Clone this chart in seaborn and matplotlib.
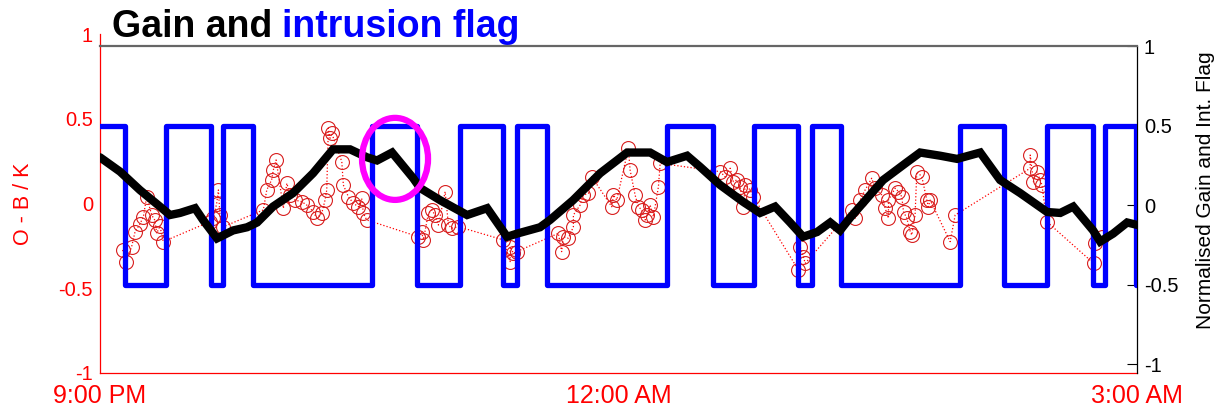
import matplotlib
matplotlib.use("Agg")
import matplotlib.pyplot as plt
import seaborn as sns
import numpy as np
from matplotlib.patches import Ellipse

# ---------------- data (hours after 9:00 PM) ----------------
flag_t = [0.0, 0.145, 0.38, 0.64, 0.71, 0.885, 1.574, 1.834, 2.083, 2.332, 2.413,
          2.586, 3.281, 3.547, 3.784, 4.039, 4.12, 4.287, 4.976, 5.231, 5.479,
          5.745, 5.815, 5.995, 6.0]
flag_v = [0.5, -0.5, 0.5, -0.5, 0.5, -0.5, 0.5, -0.5, 0.5, -0.5, 0.5,
          -0.5, 0.5, -0.5, 0.5, -0.5, 0.5, -0.5, 0.5, -0.5, 0.5,
          -0.5, 0.5, -0.5, -0.5]

gain_t = [0.0, 0.116, 0.231, 0.347, 0.405, 0.463, 0.550, 0.596, 0.677, 0.770,
          0.851, 0.909, 1.001, 1.117, 1.233, 1.348, 1.447, 1.545, 1.603, 1.690,
          1.811, 1.852, 1.968, 2.124, 2.240, 2.355, 2.413, 2.546, 2.604, 2.737,
          2.894, 3.050, 3.183, 3.281, 3.397, 3.472, 3.588, 3.721, 3.819, 3.906,
          3.993, 4.068, 4.149, 4.225, 4.282, 4.340, 4.531, 4.670, 4.745, 4.861,
          4.959, 5.093, 5.208, 5.324, 5.480, 5.556, 5.631, 5.746, 5.787, 5.862,
          5.943, 6.0]
gain_v = [0.30, 0.21, 0.094, -0.01, -0.063, -0.05, -0.02, -0.094, -0.21, -0.16,
          -0.14, -0.11, -0.01, 0.075, 0.20, 0.35, 0.35, 0.30, 0.28, 0.33,
          0.17, 0.107, 0.03, -0.063, -0.02, -0.20, -0.18, -0.14, -0.094, 0.03,
          0.20, 0.33, 0.33, 0.27, 0.31, 0.24, 0.126, 0.02, -0.05, -0.01,
          -0.11, -0.20, -0.17, -0.11, -0.16, -0.08, 0.157, 0.27, 0.33, 0.31,
          0.29, 0.33, 0.157, 0.075, -0.044, -0.05, -0.01, -0.16, -0.23, -0.18,
          -0.11, -0.125]

ob_t = [0.131, 0.150, 0.183, 0.203, 0.231, 0.251, 0.270, 0.299, 0.318, 0.328,
        0.347, 0.366, 0.637, 0.656, 0.675, 0.685, 0.694, 0.714, 0.945, 0.965,
        0.993, 1.003, 1.019, 1.061, 1.081, 1.100, 1.128, 1.167, 1.196, 1.234,
        1.254, 1.283, 1.302, 1.312, 1.321, 1.331, 1.341, 1.399, 1.408, 1.437,
        1.466, 1.495, 1.514, 1.524, 1.543, 1.842, 1.861, 1.871, 1.900, 1.919,
        1.939, 1.958, 1.997, 2.016, 2.035, 2.074, 2.334, 2.373, 2.373, 2.392,
        2.411, 2.652, 2.671, 2.681, 2.710, 2.739, 2.739, 2.778, 2.797, 2.826,
        2.845, 2.961, 2.971, 2.990, 3.057, 3.067, 3.096, 3.115, 3.135, 3.154,
        3.164, 3.183, 3.202, 3.231, 3.241, 3.588, 3.617, 3.646, 3.665, 3.684,
        3.704, 3.723, 3.733, 3.762, 3.780, 4.041, 4.051, 4.070, 4.080, 4.350,
        4.369, 4.398, 4.427, 4.465, 4.485, 4.523, 4.543, 4.562, 4.562, 4.601,
        4.620, 4.639, 4.649, 4.668, 4.688, 4.697, 4.716, 4.726, 4.755, 4.784,
        4.793, 4.803, 4.919, 4.948, 5.382, 5.382, 5.401, 5.421, 5.440, 5.450,
        5.478, 5.749, 5.758, 5.797]
ob_v = [-0.274, -0.347, -0.255, -0.166, -0.121, -0.078, 0.040, -0.068, -0.100, -0.176,
        -0.133, -0.225, -0.107, -0.087, 0.000, 0.080, -0.068, -0.137, -0.038, 0.080,
        0.139, 0.198, 0.257, -0.028, 0.119, 0.050, 0.020, 0.011, -0.009, -0.048,
        -0.087, -0.058, 0.020, 0.080, 0.444, 0.385, 0.414, 0.247, 0.109, 0.040,
        0.001, -0.019, 0.031, -0.058, -0.097, -0.196, -0.166, -0.215, -0.058, -0.038,
        -0.068, -0.127, 0.070, -0.127, -0.146, -0.137, -0.215, -0.255, -0.343, -0.294,
        -0.284, -0.176, -0.284, -0.196, -0.205, -0.137, -0.068, -0.009, 0.050, 0.060,
        0.158, -0.019, 0.050, 0.020, 0.326, 0.198, 0.050, -0.019, -0.038, -0.097,
        -0.068, -0.009, -0.078, 0.099, 0.237, 0.188, 0.158, 0.208, 0.129, 0.139,
        0.099, -0.019, 0.109, 0.080, 0.040, -0.392, -0.255, -0.314, -0.353, -0.038,
        -0.087, 0.020, 0.080, 0.149, 0.090, 0.050, -0.028, 0.020, -0.087, 0.090,
        0.070, 0.040, -0.048, -0.087, -0.166, -0.186, -0.068, 0.188, 0.158, 0.020,
        -0.019, 0.020, -0.225, -0.068, 0.286, 0.208, 0.129, 0.188, 0.139, 0.109,
        -0.107, -0.353, -0.235, -0.196]

xtick_pos = [0, 3, 6]
xtick_labels = ["9:00 PM", "12:00 AM", "3:00 AM"]
yticks = [-1, -0.5, 0, 0.5, 1]
ytick_labels = ["-1", "-0.5", "0", "0.5", "1"]

# ---------------- style ----------------
sns.set_style("white")
plt.rcParams['font.family'] = ['Liberation Sans', 'DejaVu Sans']

RED = '#ff0000'
W, H = 1222, 409
fig = plt.figure(figsize=(W / 100, H / 100), dpi=100)

# left (red) axes: pixel box x 100..1137, y 34..373
ax1 = fig.add_axes([100 / W, (H - 373) / H, 1037 / W, 339 / H])
# right (black) axes: pixel box x 100..1137, y 46..373
ax2 = fig.add_axes([100 / W, (H - 373) / H, 1037 / W, 327 / H])
ax2.patch.set_visible(False)

# red O-B circles with dotted line
sns.lineplot(x=ob_t, y=ob_v, ax=ax1, estimator=None, color=RED, lw=0.9,
             linestyle=':', marker='o', markersize=10, markerfacecolor='none',
             markeredgecolor='#d81e1e', markeredgewidth=0.8, zorder=2)

# flag (blue step) and gain (black)
sns.lineplot(x=flag_t, y=flag_v, ax=ax2, estimator=None, sort=False,
             color='#0000ff', lw=3.8, drawstyle='steps-post', zorder=3)
sns.lineplot(x=gain_t, y=gain_v, ax=ax2, estimator=None, color='black',
             lw=6, zorder=4, solid_joinstyle='miter')

# magenta highlight ellipse
ax2.add_patch(Ellipse((1.707, 0.29), 0.382, 0.516, fill=False,
                      edgecolor='#ff00ff', lw=4.5, zorder=5, clip_on=False))

# ---- ax1 formatting ----
ax1.set_xlim(0, 6)
ax1.set_ylim(-1, 1)
ax1.set_xticks(xtick_pos)
ax1.set_xticklabels(xtick_labels, fontsize=18, color=RED)
ax1.set_yticks(yticks)
ax1.set_yticklabels(ytick_labels, fontsize=14.5, color=RED)
ax1.tick_params(axis='both', direction='in', length=7, width=0.8, color=RED)
ax1.tick_params(axis='x', pad=8)
ax1.tick_params(axis='y', pad=5)
for s in ['top', 'right']:
    ax1.spines[s].set_visible(False)
for s in ['left', 'bottom']:
    ax1.spines[s].set_color(RED)
    ax1.spines[s].set_linewidth(0.9)
ax1.set_ylabel("O - B / K", color=RED, fontsize=15.5)
ax1.yaxis.set_label_coords(-0.0636, 0.5)
ax1.set_xlabel("")

# ---- ax2 formatting ----
ax2.set_xlim(0, 6)
ax2.set_ylim(-1 - 9 / 159, 1)
ax2.set_xticks([])
ax2.set_yticks(yticks)
ax2.set_yticklabels(ytick_labels, fontsize=14.5, color='black')
ax2.yaxis.tick_right()
ax2.tick_params(axis='y', direction='in', length=7, width=0.8, color='black', pad=5)
ax2.spines['left'].set_visible(False)
ax2.spines['bottom'].set_visible(False)
ax2.spines['top'].set_color('#666666')
ax2.spines['top'].set_linewidth(1.6)
ax2.spines['right'].set_color('black')
ax2.spines['right'].set_linewidth(0.9)
ax2.yaxis.set_label_position('right')
ax2.set_ylabel("Normalised Gain and Int. Flag", fontsize=15, color='black')
ax2.yaxis.set_label_coords(1.057, 0.56)
ax2.set_xlabel("")

# ---- title in two colours ----
t1 = fig.text(112 / W, 1 - 45 / H, "Gain and", fontsize=27, fontweight='bold',
              color='black', va='bottom', ha='left')
ax1.annotate("intrusion flag", xy=(1, 0), xycoords=t1, xytext=(7, 0),
             textcoords='offset points', fontsize=27, fontweight='bold',
             color='#0000ff', va='bottom', ha='left', annotation_clip=False)

fig.savefig("out.png", dpi=100)
